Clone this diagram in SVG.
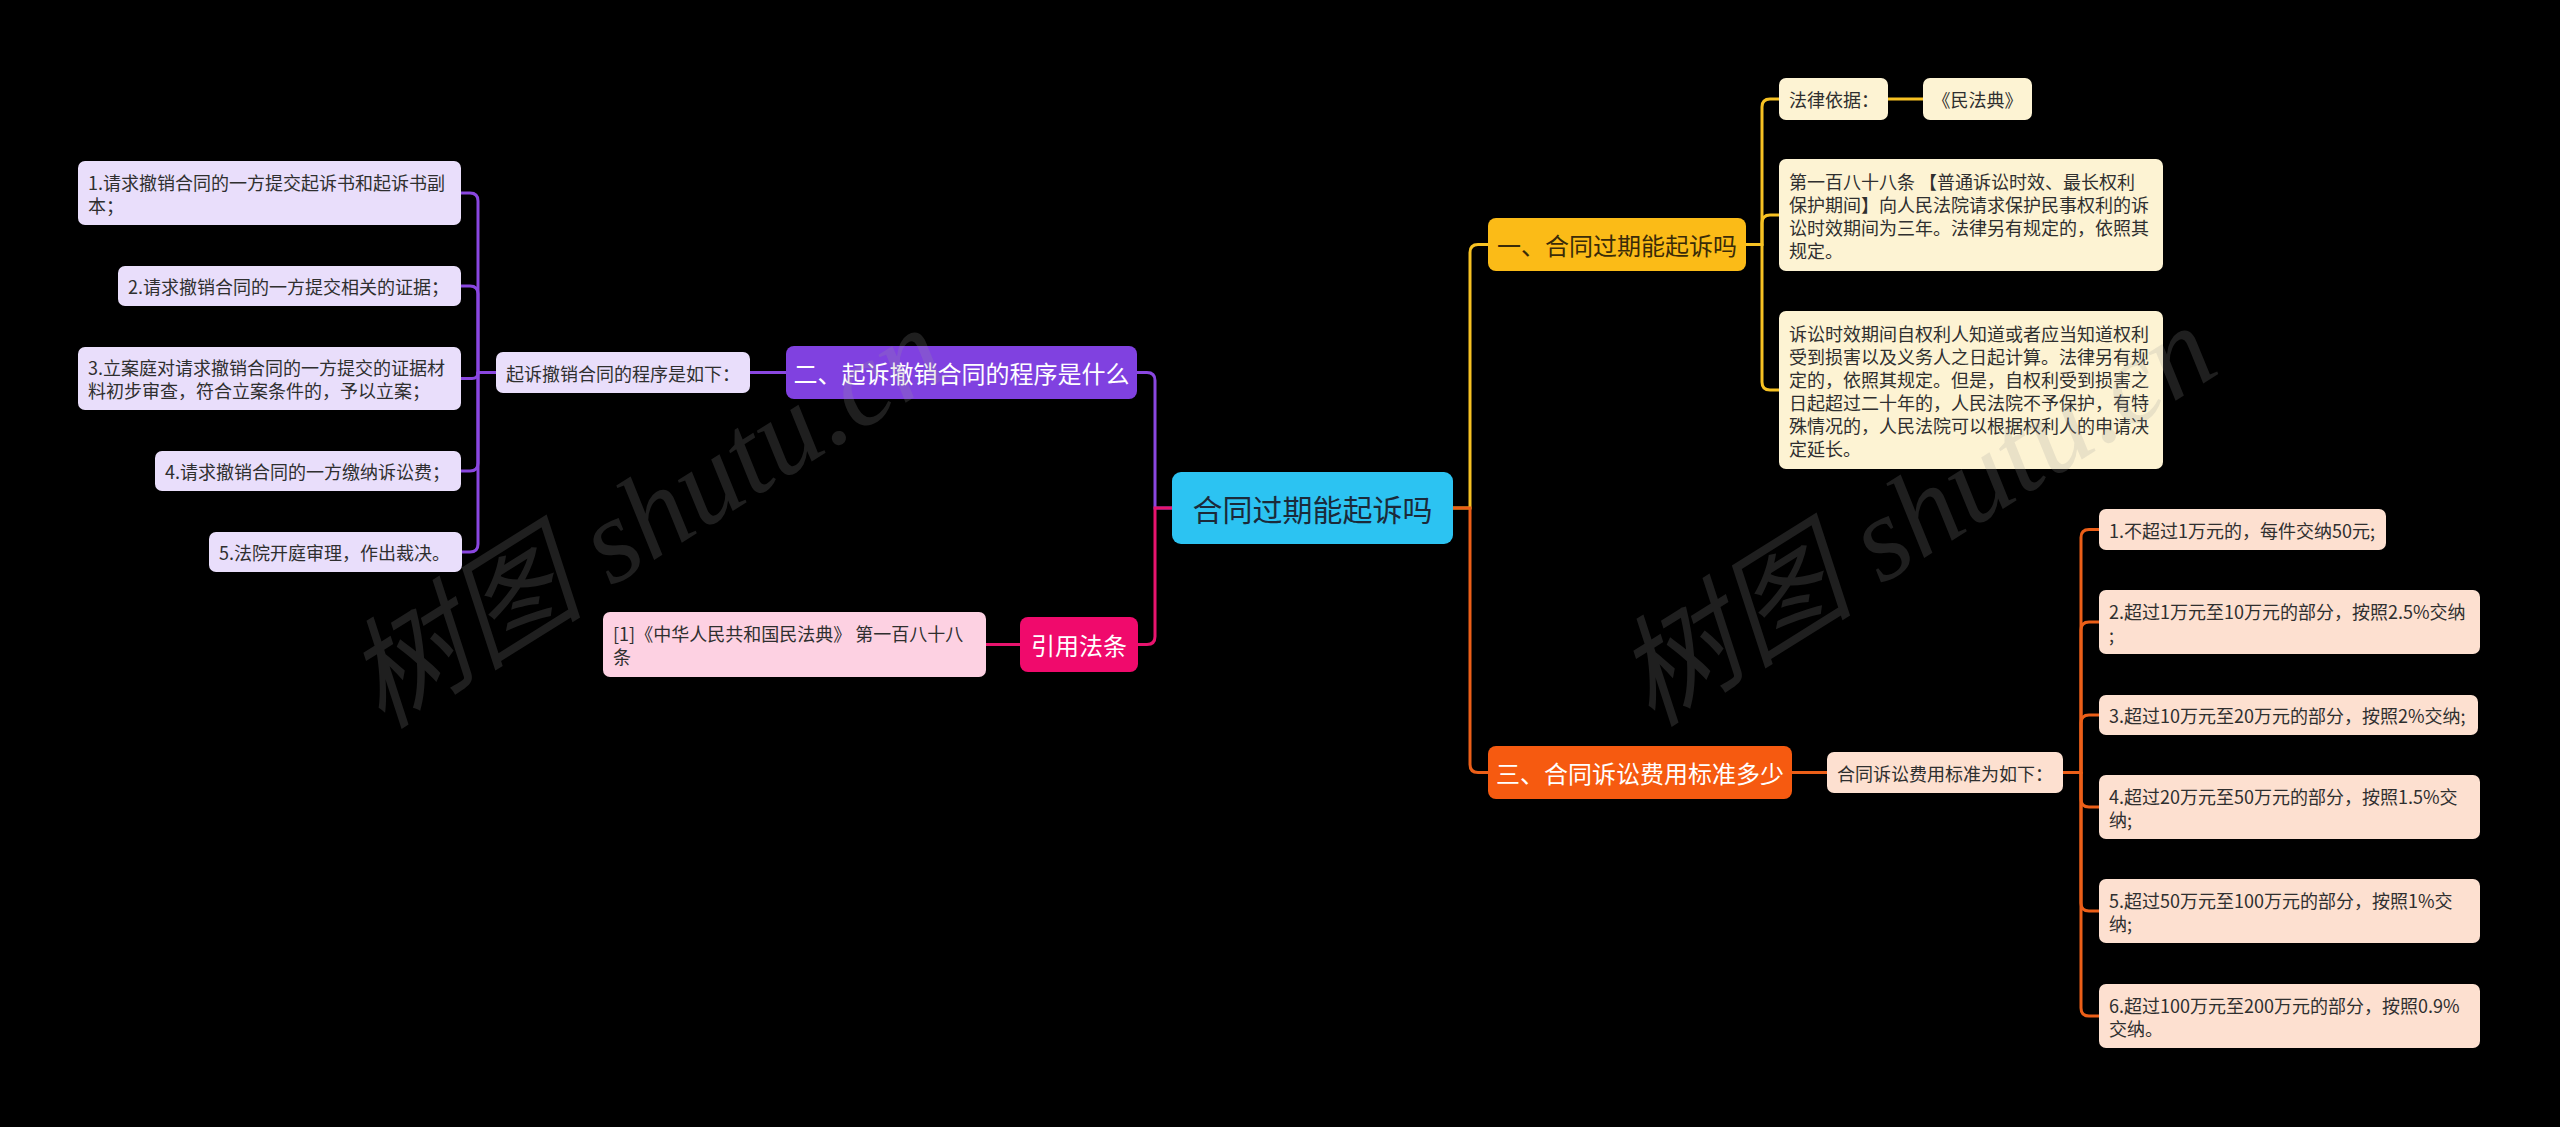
<svg xmlns="http://www.w3.org/2000/svg" width="2560" height="1127" viewBox="0 0 2560 1127">
<style>
text{font-family:"Noto Sans CJK SC","Noto Sans",sans-serif;dominant-baseline:central}
.c{fill:none;stroke-width:3;stroke-linecap:round}
.pu{stroke:#8a47e0}.pk{stroke:#e8146e}.ye{stroke:#f7c223}.or{stroke:#ec5f18}
.t18{font-size:18px;fill:#2f2f2f}
.t24{font-size:24px}
.lp{fill:#e9defb}.lk{fill:#fdd1e2}.ly{fill:#fdf3d3}.lo{fill:#fde0d0}
.wm{font-family:"Liberation Serif","Noto Sans CJK SC",serif;font-style:italic;font-size:120px;fill:#9a9a9a;fill-opacity:0.2;dominant-baseline:alphabetic}
</style>
<rect width="2560" height="1127" fill="#000"/>
<g id="connectors">
<path class="c pu" d="M1172,508 H1155 V380.5 Q1155,372.5 1147,372.5 H1137"/>
<path class="c pk" d="M1172,508 H1155 V636.5 Q1155,644.5 1147,644.5 H1138"/>
<path class="c ye" d="M1453,508 H1470 V252.5 Q1470,244.5 1478,244.5 H1488"/>
<path class="c or" d="M1453,508 H1470 V764.5 Q1470,772.5 1478,772.5 H1488"/>
<path class="c pu" d="M786,372.5 H750"/>
<path class="c pu" d="M496,372.5 H478 V201 Q478,193 470,193 H461"/>
<path class="c pu" d="M478,372.5 V294 Q478,286 470,286 H461"/>
<path class="c pu" d="M478,372.5 Q478,378.5 472,378.5 H461"/>
<path class="c pu" d="M478,372.5 V463 Q478,471 470,471 H461"/>
<path class="c pu" d="M478,372.5 V544 Q478,552 470,552 H461"/>
<path class="c pk" d="M1020,644.5 H986"/>
<path class="c ye" d="M1746,244.5 H1762 V107 Q1762,99 1770,99 H1779"/>
<path class="c ye" d="M1762,244.5 V223 Q1762,215 1770,215 H1779"/>
<path class="c ye" d="M1762,244.5 V382 Q1762,390 1770,390 H1779"/>
<path class="c ye" d="M1888,99 H1923"/>
<path class="c or" d="M1792,772.5 H1827"/>
<path class="c or" d="M2063,772.5 H2081 V537.5 Q2081,529.5 2089,529.5 H2099"/>
<path class="c or" d="M2081,772.5 V630 Q2081,622 2089,622 H2099"/>
<path class="c or" d="M2081,772.5 V723 Q2081,715 2089,715 H2099"/>
<path class="c or" d="M2081,772.5 V799 Q2081,807 2089,807 H2099"/>
<path class="c or" d="M2081,772.5 V903 Q2081,911 2089,911 H2099"/>
<path class="c or" d="M2081,772.5 V1008 Q2081,1016 2089,1016 H2099"/>
</g>
<g id="root"><rect x="1172" y="472" width="281" height="72" rx="9" fill="#2cc3f2"/><text x="1312.5" y="508" text-anchor="middle" font-size="30" fill="#1b2a3a">合同过期能起诉吗</text></g>
<g id="n2"><rect x="786" y="346" width="351" height="53" rx="8" fill="#8041e0"/><text class="t24" x="961.5" y="372.5" text-anchor="middle" fill="#fff">二、起诉撤销合同的程序是什么</text></g>
<g id="n2a"><rect class="lp" x="496" y="352" width="254" height="41" rx="7"/><text class="t18" x="506" y="372.5">起诉撤销合同的程序是如下：</text></g>
<g id="n2a1"><rect class="lp" x="78" y="161" width="383" height="64" rx="7"/><text class="t18" x="88" y="181.5">1.请求撤销合同的一方提交起诉书和起诉书副</text><text class="t18" x="88" y="204.5">本；</text></g>
<g id="n2a2"><rect class="lp" x="118" y="266" width="343" height="40" rx="7"/><text class="t18" x="128" y="286">2.请求撤销合同的一方提交相关的证据；</text></g>
<g id="n2a3"><rect class="lp" x="78" y="347" width="383" height="63" rx="7"/><text class="t18" x="88" y="367">3.立案庭对请求撤销合同的一方提交的证据材</text><text class="t18" x="88" y="390">料初步审查，符合立案条件的，予以立案；</text></g>
<g id="n2a4"><rect class="lp" x="155" y="451" width="306" height="40" rx="7"/><text class="t18" x="165" y="471">4.请求撤销合同的一方缴纳诉讼费；</text></g>
<g id="n2a5"><rect class="lp" x="209" y="532" width="253" height="40" rx="7"/><text class="t18" x="219" y="552">5.法院开庭审理，作出裁决。</text></g>
<g id="n4"><rect x="1020" y="617" width="118" height="55" rx="8" fill="#f00a6c"/><text class="t24" x="1079" y="644.5" text-anchor="middle" fill="#fff">引用法条</text></g>
<g id="n4a"><rect class="lk" x="603" y="612" width="383" height="65" rx="7"/><text class="t18" x="613" y="633">[1]《中华人民共和国民法典》 第一百八十八</text><text class="t18" x="613" y="656">条</text></g>
<g id="n1"><rect x="1488" y="218" width="258" height="53" rx="8" fill="#fbbb17"/><text class="t24" x="1617" y="244.5" text-anchor="middle" fill="#3a2b08">一、合同过期能起诉吗</text></g>
<g id="n1a"><rect class="ly" x="1779" y="78" width="109" height="42" rx="7"/><text class="t18" x="1789" y="99">法律依据：</text></g>
<g id="n1a1"><rect class="ly" x="1923" y="78" width="109" height="42" rx="7"/><text class="t18" x="1977.5" y="99" text-anchor="middle">《民法典》</text></g>
<g id="n1b"><rect class="ly" x="1779" y="159" width="384" height="112" rx="7"/><text class="t18" x="1789" y="180.5">第一百八十八条 【普通诉讼时效、最长权利</text><text class="t18" x="1789" y="203.5">保护期间】向人民法院请求保护民事权利的诉</text><text class="t18" x="1789" y="226.5">讼时效期间为三年。法律另有规定的，依照其</text><text class="t18" x="1789" y="249.5">规定。</text></g>
<g id="n1c"><rect class="ly" x="1779" y="311" width="384" height="158" rx="7"/><text class="t18" x="1789" y="332.5">诉讼时效期间自权利人知道或者应当知道权利</text><text class="t18" x="1789" y="355.5">受到损害以及义务人之日起计算。法律另有规</text><text class="t18" x="1789" y="378.5">定的，依照其规定。但是，自权利受到损害之</text><text class="t18" x="1789" y="401.5">日起超过二十年的，人民法院不予保护，有特</text><text class="t18" x="1789" y="424.5">殊情况的，人民法院可以根据权利人的申请决</text><text class="t18" x="1789" y="447.5">定延长。</text></g>
<g id="n3"><rect x="1488" y="746" width="304" height="53" rx="8" fill="#f65a10"/><text class="t24" x="1640" y="772.5" text-anchor="middle" fill="#fff">三、合同诉讼费用标准多少</text></g>
<g id="n3a"><rect class="lo" x="1827" y="752" width="236" height="41" rx="7"/><text class="t18" x="1837" y="772.5">合同诉讼费用标准为如下：</text></g>
<g id="n3a1"><rect class="lo" x="2099" y="509" width="287" height="41" rx="7"/><text class="t18" x="2109" y="529.5">1.不超过1万元的，每件交纳50元;</text></g>
<g id="n3a2"><rect class="lo" x="2099" y="590" width="381" height="64" rx="7"/><text class="t18" x="2109" y="610.5">2.超过1万元至10万元的部分，按照2.5%交纳</text><text class="t18" x="2109" y="633.5">;</text></g>
<g id="n3a3"><rect class="lo" x="2099" y="695" width="379" height="40" rx="7"/><text class="t18" x="2109" y="715">3.超过10万元至20万元的部分，按照2%交纳;</text></g>
<g id="n3a4"><rect class="lo" x="2099" y="775" width="381" height="64" rx="7"/><text class="t18" x="2109" y="795.5">4.超过20万元至50万元的部分，按照1.5%交</text><text class="t18" x="2109" y="818.5">纳;</text></g>
<g id="n3a5"><rect class="lo" x="2099" y="879" width="381" height="64" rx="7"/><text class="t18" x="2109" y="899.5">5.超过50万元至100万元的部分，按照1%交</text><text class="t18" x="2109" y="922.5">纳;</text></g>
<g id="n3a6"><rect class="lo" x="2099" y="984" width="381" height="64" rx="7"/><text class="t18" x="2109" y="1004.5">6.超过100万元至200万元的部分，按照0.9%</text><text class="t18" x="2109" y="1027.5">交纳。</text></g>
<g id="watermark">
<text class="wm" x="382" y="730" transform="rotate(-32 382 730)">树图 shutu.cn</text>
<text class="wm" x="1652" y="728" transform="rotate(-32 1652 728)">树图 shutu.cn</text>
</g>
</svg>
